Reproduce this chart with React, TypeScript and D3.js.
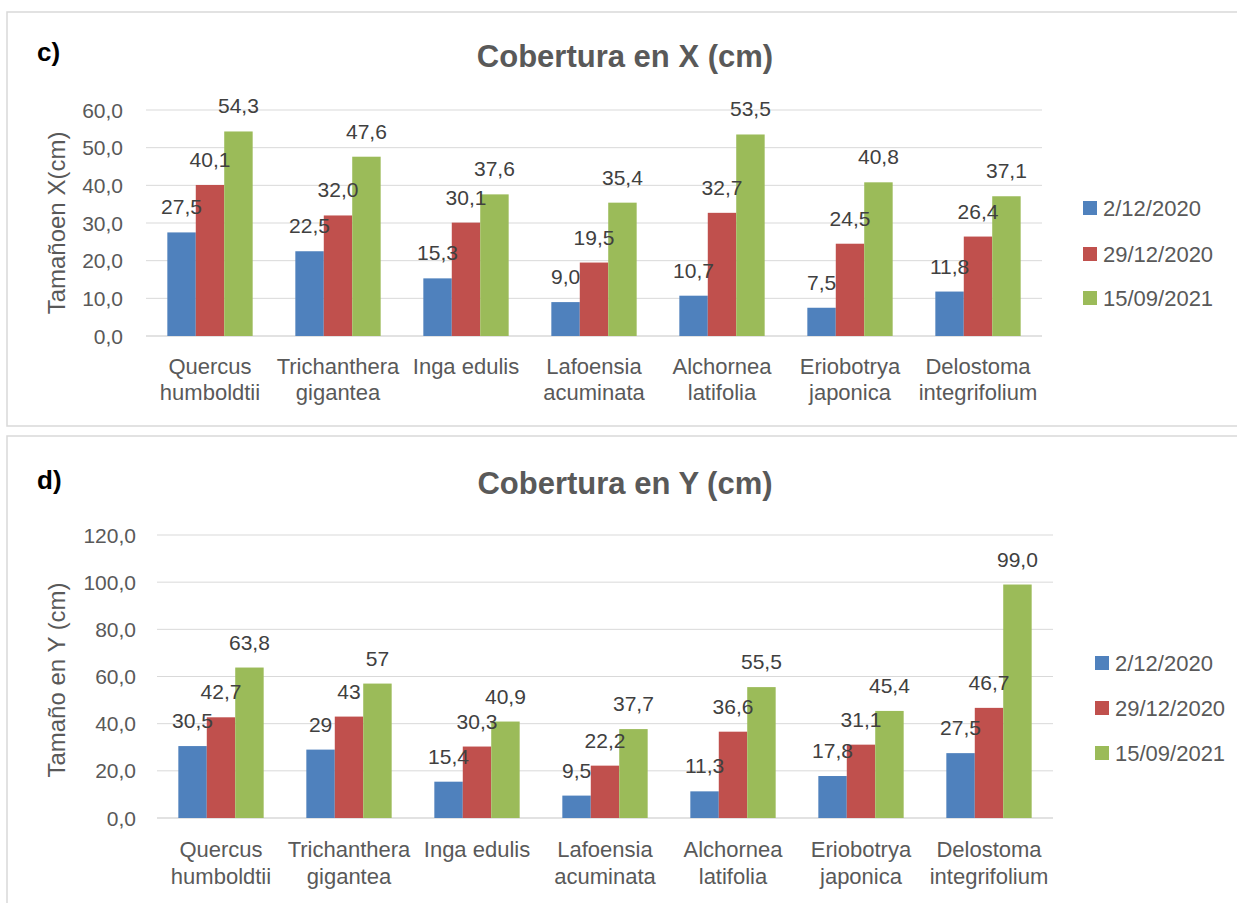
import React from 'react';
import * as d3 from 'd3';

const species = [
  ['Quercus', 'humboldtii'],
  ['Trichanthera', 'gigantea'],
  ['Inga edulis'],
  ['Lafoensia', 'acuminata'],
  ['Alchornea', 'latifolia'],
  ['Eriobotrya', 'japonica'],
  ['Delostoma', 'integrifolium'],
];
const dates = ['2/12/2020', '29/12/2020', '15/09/2021'];
const colors = ['#4f81bd', '#c0504d', '#9bbb59'];

const xCover = [
  [27.5, 22.5, 15.3, 9.0, 10.7, 7.5, 11.8],
  [40.1, 32.0, 30.1, 19.5, 32.7, 24.5, 26.4],
  [54.3, 47.6, 37.6, 35.4, 53.5, 40.8, 37.1],
];
const xLabels = [
  ['27,5', '22,5', '15,3', '9,0', '10,7', '7,5', '11,8'],
  ['40,1', '32,0', '30,1', '19,5', '32,7', '24,5', '26,4'],
  ['54,3', '47,6', '37,6', '35,4', '53,5', '40,8', '37,1'],
];
const xTicks = [0, 10, 20, 30, 40, 50, 60];

const yCover = [
  [30.5, 29, 15.4, 9.5, 11.3, 17.8, 27.5],
  [42.7, 43, 30.3, 22.2, 36.6, 31.1, 46.7],
  [63.8, 57, 40.9, 37.7, 55.5, 45.4, 99.0],
];
const yLabels = [
  ['30,5', '29', '15,4', '9,5', '11,3', '17,8', '27,5'],
  ['42,7', '43', '30,3', '22,2', '36,6', '31,1', '46,7'],
  ['63,8', '57', '40,9', '37,7', '55,5', '45,4', '99,0'],
];
const yTicks = [0, 20, 40, 60, 80, 100, 120];

const FONT = '"Liberation Sans", Arial, sans-serif';
const fmt = (v: number) => v.toFixed(1).replace('.', ',');

interface PanelProps {
  letter: string;
  title: string;
  yTitle: string;
  values: number[][];
  labels: string[][];
  ticks: number[];
  left: number;
  right: number;
  y0: number;
  yMax: number;
  yTop: number;
  tickX: number;
  catY: number[];
  legendX: number;
  legendY: number[];
  titleY: number;
  letterY: number;
  yTitleY: number;
  boxTop: number;
  boxBottom: number;
}

const Panel: React.FC<PanelProps> = p => {
  const x0 = d3.scaleBand<number>().domain(d3.range(species.length)).range([p.left, p.right]).padding(0);
  const x1 = d3.scaleBand<number>().domain(d3.range(dates.length)).range([0, x0.bandwidth()])
    .paddingInner(0).paddingOuter(0.75);
  const y = d3.scaleLinear().domain([0, p.yMax]).range([p.y0, p.yTop]);
  const barX = (si: number, ci: number) => (x0(ci) ?? 0) + (x1(si) ?? 0);

  return (
    <g>
      <rect x={7} y={p.boxTop} width={1240} height={p.boxBottom - p.boxTop} fill="white" stroke="#d9d9d9" strokeWidth={1.5} />
      <text x={37} y={p.letterY} fontFamily={FONT} fontWeight="bold" fontSize={26} fill="#000">{p.letter}</text>
      <text x={625} y={p.titleY} textAnchor="middle" fontFamily={FONT} fontWeight="bold" fontSize={31} fill="#595959">{p.title}</text>

      {p.ticks.map(t => (
        <g key={t}>
          <line x1={p.left} x2={p.right} y1={y(t)} y2={y(t)} stroke="#d9d9d9" strokeWidth={t === 0 ? 1.5 : 1} />
          <text x={p.tickX} y={y(t)} dy="0.36em" textAnchor="end" fontFamily={FONT} fontSize={21} fill="#595959">{fmt(t)}</text>
        </g>
      ))}

      <text transform={`translate(65,${p.yTitleY}) rotate(-90)`} textAnchor="middle" fontFamily={FONT} fontSize={24} fill="#595959">{p.yTitle}</text>

      {p.values.map((series, si) =>
        series.map((v, ci) => (
          <rect key={`b${si}-${ci}`} x={barX(si, ci)} y={y(v)} width={x1.bandwidth()} height={p.y0 - y(v)} fill={colors[si]} />
        ))
      )}
      {p.values.map((series, si) =>
        series.map((v, ci) => (
          <text key={`l${si}-${ci}`} x={barX(si, ci) + x1.bandwidth() / 2} y={y(v) - 18} textAnchor="middle"
            fontFamily={FONT} fontSize={21} fill="#404040">{p.labels[si][ci]}</text>
        ))
      )}

      {species.map((lines, ci) => (
        <text key={ci} textAnchor="middle" fontFamily={FONT} fontSize={22} fill="#595959">
          {lines.map((l, li) => (
            <tspan key={li} x={(x0(ci) ?? 0) + x0.bandwidth() / 2} y={p.catY[li]}>{l}</tspan>
          ))}
        </text>
      ))}

      {dates.map((d, i) => (
        <g key={d}>
          <rect x={p.legendX} y={p.legendY[i] - 7} width={14} height={14} fill={colors[i]} />
          <text x={p.legendX + 20} y={p.legendY[i]} dy="0.36em" fontFamily={FONT} fontSize={22} fill="#595959">{d}</text>
        </g>
      ))}
    </g>
  );
};

export default function App() {
  return (
    <div style={{ position: 'absolute', left: 0, top: 0 }}>
      <svg width={1237} height={903} style={{ display: 'block', background: 'white' }}>
        <Panel
          boxTop={12} boxBottom={426}
          letter="c)" letterY={61}
          title="Cobertura en X (cm)" titleY={67}
          yTitle="Tamañoen X(cm)" yTitleY={223}
          values={xCover} labels={xLabels} ticks={xTicks}
          left={146} right={1042} y0={336} yMax={60} yTop={110}
          tickX={123} catY={[374, 400]}
          legendX={1083} legendY={[208, 254, 298]}
        />
        <Panel
          boxTop={436} boxBottom={920}
          letter="d)" letterY={489}
          title="Cobertura en Y (cm)" titleY={494}
          yTitle="Tamaño en Y (cm)" yTitleY={680}
          values={yCover} labels={yLabels} ticks={yTicks}
          left={157} right={1053} y0={818} yMax={120} yTop={535}
          tickX={136} catY={[857, 884]}
          legendX={1095} legendY={[663, 708, 753]}
        />
      </svg>
    </div>
  );
}
